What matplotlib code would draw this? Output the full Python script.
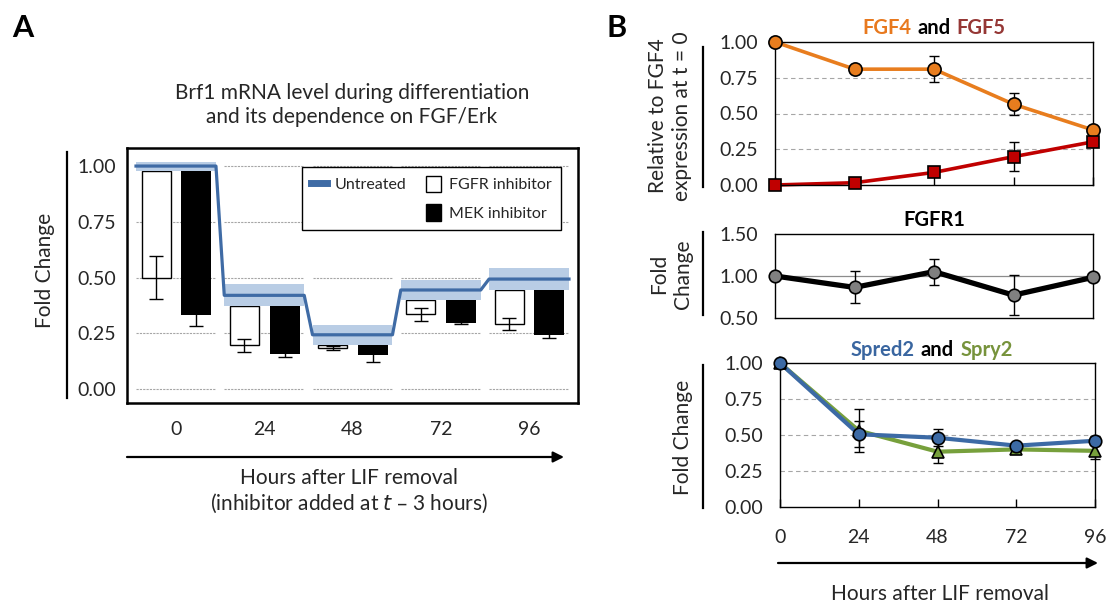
import numpy as np
import matplotlib.pyplot as plt
from matplotlib.lines import Line2D
from matplotlib.patches import Patch, FancyArrowPatch

plt.rcParams['font.family'] = ['Lato', 'DejaVu Sans']

W, H = 1113, 608

hours = [0, 24, 48, 72, 96]
hour_labels = ['0', '24', '48', '72', '96']

# panel A - Brf1 mRNA
untreated = [1.00, 0.42, 0.243, 0.444, 0.493]
untreated_err = [0.02, 0.05, 0.045, 0.047, 0.051]
fgfr_inh = [0.50, 0.195, 0.183, 0.335, 0.29]
fgfr_err = [0.095, 0.03, 0.008, 0.028, 0.027]
mek_inh = [0.332, 0.155, 0.152, 0.297, 0.24]
mek_err = [0.05, 0.012, 0.03, 0.005, 0.012]

# panel B
fgf4 = [1.00, 0.81, 0.81, 0.565, 0.385]
fgf4_err = [0, 0, 0.093, 0.077, 0]
fgf5 = [0.0, 0.016, 0.088, 0.198, 0.302]
fgf5_err = [0, 0, 0, 0.10, 0]

fgfr1 = [1.00, 0.864, 1.052, 0.772, 0.984]
fgfr1_err = [0, 0.19, 0.155, 0.24, 0]

spred2 = [1.00, 0.505, 0.481, 0.426, 0.46]
spred2_err = [0, 0.09, 0.06, 0.02, 0.03]
spry2 = [1.00, 0.53, 0.384, 0.40, 0.39]
spry2_err = [0, 0.15, 0.076, 0.01, 0.06]

TXT = '#262626'
TICK_FS = 14
LAB_FS = 15


def px(x, y):
    return x / W, 1 - y / H


def vline(x, y0, y1):
    fig.add_artist(Line2D([x / W, x / W], [1 - y0 / H, 1 - y1 / H], color='black', lw=1.6))


def arrow(x0, x1, y):
    fig.add_artist(FancyArrowPatch(px(x0, y), px(x1, y), transform=fig.transFigure,
                                   arrowstyle='-|>', color='black', lw=1.6,
                                   mutation_scale=16, shrinkA=0, shrinkB=0))


def colored_title(ax, y, parts, fs=14.5):
    mid = ax.text(0.5, y, parts[1][0], color=parts[1][1], transform=ax.transAxes,
                  ha='center', va='bottom', fontsize=fs, fontweight='bold')
    ax.annotate(parts[0][0], xy=(0, 0), xycoords=mid, xytext=(-4.5, 0), textcoords='offset points',
                ha='right', va='bottom', color=parts[0][1], fontsize=fs, fontweight='bold')
    ax.annotate(parts[2][0], xy=(1, 0), xycoords=mid, xytext=(4.5, 0), textcoords='offset points',
                ha='left', va='bottom', color=parts[2][1], fontsize=fs, fontweight='bold')


fig = plt.figure(figsize=(W / 100, H / 100), dpi=100)

# ---------------- panel A ----------------
axA = fig.add_axes([127 / W, 1 - 403 / H, 451 / W, 255 / H])
x = np.arange(len(hours))
hw = 0.453
unt = np.array(untreated)
ue = np.array(untreated_err)
fg = np.array(fgfr_inh)
mk = np.array(mek_inh)
top = unt - ue

for lvl in [0, 0.25, 0.5, 0.75, 1.0]:
    axA.hlines(np.full(len(x), lvl), x - hw, x + hw, colors='#A6A6A6', linestyles=(0, (2, 1)),
               lw=0.8, zorder=0)

axA.bar(x - 0.225, top - fg, bottom=fg, width=0.33, color='white', edgecolor='black', lw=1, zorder=2)
axA.errorbar(x - 0.225, fg, yerr=fgfr_err, fmt='none', ecolor='black', elinewidth=1, capsize=5, zorder=3)
axA.bar(x + 0.23, top - mk, bottom=mk, width=0.34, color='black', zorder=2)
axA.errorbar(x + 0.23, mk, yerr=mek_err, fmt='none', ecolor='black', elinewidth=1, capsize=5, zorder=1)

for i in x:
    axA.fill_between([i - hw, i + hw], unt[i] - ue[i], unt[i] + ue[i], color='#B9CDE5', lw=0, zorder=3)
lx = np.column_stack([x - hw, x + hw]).ravel()
ly = np.repeat(unt, 2)
axA.plot(lx, ly, color='#3F6BA5', lw=2.3, zorder=4)

axA.set_xlim(-0.555, 4.555)
axA.set_ylim(-0.063, 1.081)
axA.set_yticks([0, 0.25, 0.5, 0.75, 1.0])
axA.set_yticklabels(['%.2f' % v for v in [0, 0.25, 0.5, 0.75, 1.0]])
axA.set_xticks(x)
axA.set_xticklabels(hour_labels)
axA.tick_params(axis='y', length=0, pad=8, labelsize=TICK_FS, labelcolor=TXT)
axA.tick_params(axis='x', length=0, pad=13, labelsize=TICK_FS, labelcolor=TXT)
for s in axA.spines.values():
    s.set_linewidth(1.8)

handles = [Line2D([], [], color='#3F6BA5', lw=5),
           Line2D([], [], alpha=0),
           Patch(facecolor='white', edgecolor='black', lw=1),
           Patch(facecolor='black', edgecolor='black')]
labels = ['Untreated', '', 'FGFR inhibitor', 'MEK inhibitor']
leg = axA.legend(handles, labels, ncol=2, loc='upper right', bbox_to_anchor=(0.98, 0.957),
                 fancybox=False, edgecolor='black', fontsize=11.5,
                 handlelength=1.0, handleheight=1.2, labelspacing=0.75, borderpad=0.55,
                 handletextpad=0.5, columnspacing=1.2, framealpha=1)
leg.get_frame().set_linewidth(1)
for t in leg.get_texts():
    t.set_color(TXT)

vline(67, 152, 398)
fig.text(*px(45, 270), 'Fold Change', rotation=90, ha='center', va='center', fontsize=LAB_FS, color=TXT)
fig.text(*px(352, 105), 'Brf1 mRNA level during differentiation\nand its dependence on FGF/Erk',
         ha='center', va='center', fontsize=LAB_FS, color=TXT, linespacing=1.2)
arrow(127, 564, 457)
fig.text(*px(349, 478), 'Hours after LIF removal', ha='center', va='center', fontsize=LAB_FS, color=TXT)
fig.text(*px(349, 503), '(inhibitor added at $\\it{t}$ \u2013 3 hours)', ha='center', va='center',
         fontsize=LAB_FS, color=TXT)

fig.text(*px(23, 28), 'A', ha='center', va='center', fontsize=22, fontweight='bold')
fig.text(*px(617, 28), 'B', ha='center', va='center', fontsize=22, fontweight='bold')


# ---------------- panel B ----------------
def style_b(ax, ylim, yticks):
    ax.set_xlim(0, 96)
    ax.set_ylim(*ylim)
    ax.set_yticks(yticks)
    ax.set_yticklabels(['%.2f' % v for v in yticks])
    ax.set_xticks(hours)
    ax.tick_params(axis='y', length=0, pad=12, labelsize=TICK_FS, labelcolor=TXT)
    ax.tick_params(axis='x', direction='in', length=6, width=1, labelbottom=False)
    for s in ax.spines.values():
        s.set_linewidth(1)


def series(ax, yv, err, color, marker, ms, lw, mfc):
    ax.plot(hours, yv, color=color, lw=lw, zorder=2, clip_on=False)
    ax.errorbar(hours, yv, yerr=err, fmt='none', ecolor='black', elinewidth=1, capsize=3.5, zorder=3,
                clip_on=False)
    ax.plot(hours, yv, ls='none', marker=marker, ms=ms, mfc=mfc, mec='black', mew=1.2, zorder=4,
            clip_on=False)


axB1 = fig.add_axes([775 / W, 1 - 185 / H, 318 / W, 143 / H])
style_b(axB1, (0, 1), [0, 0.25, 0.5, 0.75, 1.0])
for lvl in [0.25, 0.5, 0.75]:
    axB1.axhline(lvl, color='#A6A6A6', lw=0.8, ls=(0, (4, 3)), zorder=0)
series(axB1, fgf4, fgf4_err, '#E87D1E', 'o', 9.5, 2.6, '#E87D1E')
series(axB1, fgf5, fgf5_err, '#C00000', 's', 8.5, 2.6, '#C00000')
colored_title(axB1, 1.03, [('FGF4', '#E8791E'), ('and', 'black'), ('FGF5', '#953735')])

axB2 = fig.add_axes([775 / W, 1 - 318 / H, 318 / W, 84 / H])
style_b(axB2, (0.5, 1.5), [0.5, 1.0, 1.5])
axB2.tick_params(axis='x', length=0)
axB2.axhline(1.0, color='#8C8C8C', lw=0.9, zorder=0)
series(axB2, fgfr1, fgfr1_err, 'black', 'o', 9, 3.8, '#808080')
axB2.text(0.5, 1.05, 'FGFR1', transform=axB2.transAxes, ha='center', va='bottom', fontsize=14.5,
          fontweight='bold')

axB3 = fig.add_axes([780 / W, 1 - 507 / H, 315 / W, 144 / H])
style_b(axB3, (0, 1), [0, 0.25, 0.5, 0.75, 1.0])
axB3.tick_params(axis='x', labelbottom=True, pad=16, labelsize=TICK_FS, labelcolor=TXT)
axB3.set_xticklabels(hour_labels)
for lvl in [0.25, 0.5, 0.75]:
    axB3.axhline(lvl, color='#A6A6A6', lw=0.8, ls=(0, (4, 3)), zorder=0)
series(axB3, spry2, spry2_err, '#77A03C', '^', 8.5, 3, '#77A03C')
series(axB3, spred2, spred2_err, '#3C6AA5', 'o', 9, 3, '#3C6AA5')
colored_title(axB3, 1.02, [('Spred2', '#3A66A0'), ('and', 'black'), ('Spry2', '#77933C')])

vline(703, 47, 187)
vline(703, 232, 315)
vline(703, 365, 508)
fig.text(*px(670, 116), 'Relative to FGF4\nexpression at t = 0', rotation=90, ha='center', va='center',
         fontsize=LAB_FS, color=TXT, linespacing=1.2)
fig.text(*px(671, 274), 'Fold\nChange', rotation=90, ha='center', va='center',
         fontsize=LAB_FS, color=TXT, linespacing=1.2)
fig.text(*px(683, 437), 'Fold Change', rotation=90, ha='center', va='center', fontsize=LAB_FS, color=TXT)
arrow(778, 1098, 563)
fig.text(*px(940, 594), 'Hours after LIF removal', ha='center', va='center', fontsize=LAB_FS, color=TXT)

fig.savefig('out.png', dpi=100, facecolor='white')
